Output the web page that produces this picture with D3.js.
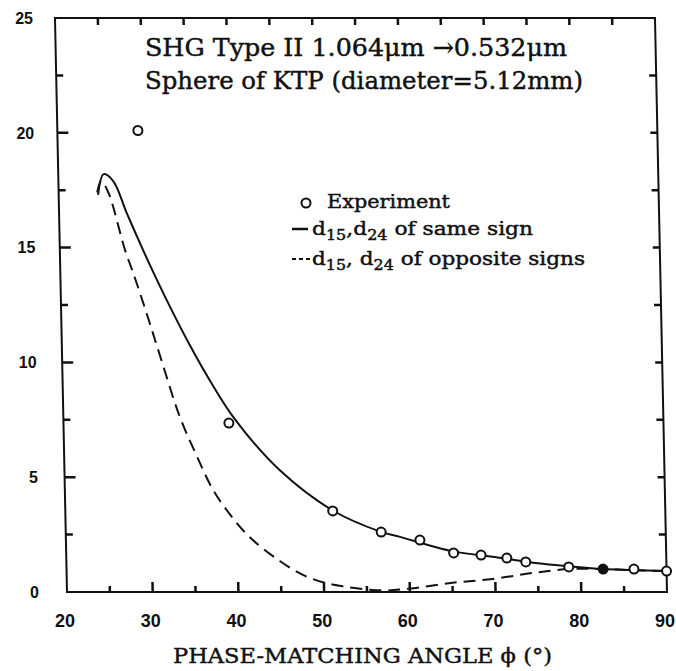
<!DOCTYPE html>
<html>
<head>
<meta charset="utf-8">
<script src="https://cdn.jsdelivr.net/npm/d3@7"></script>
<style>
  body { margin: 0; background: #fff; }
  svg { display: block; }
  .num { font-family: "Liberation Sans", Arial, sans-serif; font-weight: bold; fill: #111; }
  .serif { font-family: "DejaVu Serif", "Liberation Serif", serif; fill: #111; stroke: #111; stroke-width: 0.45; }
</style>
</head>
<body>
<svg id="chart" width="676" height="671"></svg>
<script>
const xTicks = [20, 30, 40, 50, 60, 70, 80, 90];
const xMajor = [30, 40, 50, 60, 70, 80];
const xMinor = [25, 35, 45, 55, 65, 75, 85];
const yTicks = [0, 5, 10, 15, 20, 25];
const yMajor = [5, 10, 15, 20];
const yMinor = [2.5, 7.5, 12.5, 17.5, 22.5];

// measured SHG ratio vs phase-matching angle
const expAngle = [29.4, 39.3, 51.2, 56.8, 61.3, 65.2, 68.4, 71.4, 73.6, 78.6, 82.6, 86.2, 90];
const expRatio = [20.1, 7.36, 3.53, 2.61, 2.26, 1.70, 1.61, 1.48, 1.31, 1.09, 1.0, 1.0, 0.91];
const expFilled = [0, 0, 0, 0, 0, 0, 0, 0, 0, 0, 1, 0, 0];

// theory, d15 and d24 of the same sign
const sameAngle = [24.6, 25.3, 26.4, 27.9, 29.7, 31, 33, 35, 37.2, 40, 45.1, 51.2, 56.7, 59, 65, 70, 75, 78.6, 82.6, 86, 90];
const sameRatio = [17.3, 18.2, 17.9, 16.5, 14.9, 13.8, 12.2, 10.7, 9.2, 7.53, 5.31, 3.55, 2.63, 2.40, 1.78, 1.52, 1.25, 1.12, 1.0, 0.96, 0.91];

// theory, d15 and d24 of opposite signs
const oppAngle = [24.5, 25.0, 25.8, 27.6, 28.5, 30, 31.5, 33.6, 35.5, 37.3, 39.2, 41.1, 43, 44.9, 46.5, 48, 50.1, 52.3, 55, 57.5, 60, 65, 69.7, 74.4, 78.6, 82.6, 86, 90];
const oppRatio = [17.4, 17.9, 17.4, 14.9, 13.9, 12.1, 10.2, 7.62, 5.9, 4.44, 3.38, 2.52, 1.88, 1.35, 0.96, 0.67, 0.40, 0.24, 0.11, 0.07, 0.15, 0.40, 0.57, 0.83, 1.0, 1.0, 0.95, 0.91];

let svg = d3.select("#chart");

let x = d3.scaleLinear().domain([20, 90]).range([67, 667]);
let y = d3.scaleLinear().domain([0, 25]).range([592, 18]);

// the plot frame leans a little to the left towards the top
let plot = svg.append("g").
attr("transform", "translate(0,592) skewX(1.2) translate(0,-592)");

plot.append("rect").
attr("x", x(20)).
attr("y", y(25)).
attr("width", x(90) - x(20)).
attr("height", y(0) - y(25)).
attr("fill", "none").
attr("stroke", "#111").
attr("stroke-width", 2);

let sameData = sameAngle.map((a, i) => [a, sameRatio[i]]);
let oppData = oppAngle.map((a, i) => [a, oppRatio[i]]);

let line = d3.line().
x(d => x(d[0])).
y(d => y(d[1])).
curve(d3.curveCatmullRom.alpha(0.5));

plot.append("path").
datum(oppData).
attr("d", line).
attr("fill", "none").
attr("stroke", "#111").
attr("stroke-width", 2).
attr("stroke-dasharray", "12,7");

plot.append("path").
datum(sameData).
attr("d", line).
attr("fill", "none").
attr("stroke", "#111").
attr("stroke-width", 2);

plot.selectAll("circle.exp").
data(expAngle.map((a, i) => ({ a: a, r: expRatio[i], f: expFilled[i] }))).
enter().append("circle").
attr("class", "exp").
attr("cx", d => x(d.a)).
attr("cy", d => y(d.r)).
attr("r", 4.5).
attr("fill", d => d.f ? "#111" : "#fff").
attr("stroke", "#111").
attr("stroke-width", 2);

// inward tick marks on all four sides
let tickSets = [
  { v: xMajor, side: "bottom", len: 10 },
  { v: xMinor, side: "bottom", len: 6 },
  { v: xMajor.concat(xMinor), side: "top", len: 7 },
  { v: yMajor, side: "left", len: 11 },
  { v: yMinor, side: "left", len: 7 },
  { v: yMajor.concat(yMinor), side: "right", len: 7 }];

let tickData = [];
tickSets.forEach(s => s.v.forEach(v => tickData.push({ v: v, side: s.side, len: s.len })));

plot.append("g").
selectAll("line").
data(tickData).
enter().append("line").
attr("x1", d => d.side === "left" ? x(20) : d.side === "right" ? x(90) : x(d.v)).
attr("y1", d => d.side === "bottom" ? y(0) : d.side === "top" ? y(25) : y(d.v)).
attr("x2", d => d.side === "left" ? x(20) + d.len : d.side === "right" ? x(90) - d.len : x(d.v)).
attr("y2", d => d.side === "bottom" ? y(0) - d.len : d.side === "top" ? y(25) + d.len : y(d.v)).
attr("stroke", "#111").
attr("stroke-width", 2.5);

// tick labels
svg.append("g").
selectAll("text").
data(xTicks).
enter().append("text").
attr("class", "num").
attr("x", d => x(d) - 2).
attr("y", 627).
attr("text-anchor", "middle").
attr("font-size", 18).
text(d => d);

svg.append("g").
selectAll("text").
data(yTicks).
enter().append("text").
attr("class", "num").
attr("x", d => 39 - d / 25 * 6).
attr("y", d => y(d)).
attr("dy", "0.36em").
attr("text-anchor", "end").
attr("font-size", 16).
text(d => d);

// title block
svg.append("text").
attr("class", "serif").
attr("x", 145).
attr("y", 56).
attr("font-size", 25).
attr("textLength", 422).
attr("lengthAdjust", "spacingAndGlyphs").
text("SHG Type II 1.064μm \u2192" + "0.532μm");

svg.append("text").
attr("class", "serif").
attr("x", 145).
attr("y", 89).
attr("font-size", 25).
attr("textLength", 438).
attr("lengthAdjust", "spacingAndGlyphs").
text("Sphere of KTP (diameter=5.12mm)");

// legend
let legend = svg.append("g");

legend.append("circle").
attr("cx", 306).
attr("cy", 203).
attr("r", 4.5).
attr("fill", "#fff").
attr("stroke", "#111").
attr("stroke-width", 2);

legend.append("text").
attr("class", "serif").
attr("x", 327).
attr("y", 208).
attr("font-size", 19).
attr("textLength", 123).
attr("lengthAdjust", "spacingAndGlyphs").
text("Experiment");

legend.append("line").
attr("x1", 292).attr("x2", 308).
attr("y1", 229).attr("y2", 229).
attr("stroke", "#111").
attr("stroke-width", 2.5);

legend.append("line").
attr("x1", 292).attr("x2", 310).
attr("y1", 259).attr("y2", 259).
attr("stroke", "#111").
attr("stroke-width", 2).
attr("stroke-dasharray", "4,3");

function subLabel(xPos, yPos, parts, len) {
  let t = legend.append("text").
  attr("class", "serif").
  attr("x", xPos).
  attr("y", yPos).
  attr("font-size", 19).
  attr("textLength", len).
  attr("lengthAdjust", "spacingAndGlyphs");
  parts.forEach(p => {
    t.append("tspan").
    attr("font-size", p[1] ? 14 : 19).
    attr("dy", p[1] ? 5 : (p[2] ? -5 : 0)).
    text(p[0]);
  });
}

// [text, subscript, back to baseline]
subLabel(312, 235, [["d"], ["15", 1], [",d", 0, 1], ["24", 1], [" of same sign", 0, 1]], 221);
subLabel(312, 265, [["d"], ["15", 1], [", d", 0, 1], ["24", 1], [" of opposite signs", 0, 1]], 273);

// axis title
svg.append("text").
attr("class", "serif").
attr("x", 173).
attr("y", 663).
attr("font-size", 21).
attr("textLength", 379).
attr("lengthAdjust", "spacingAndGlyphs").
text("PHASE-MATCHING ANGLE \u03d5 (\u00b0)");
</script>
</body>
</html>
